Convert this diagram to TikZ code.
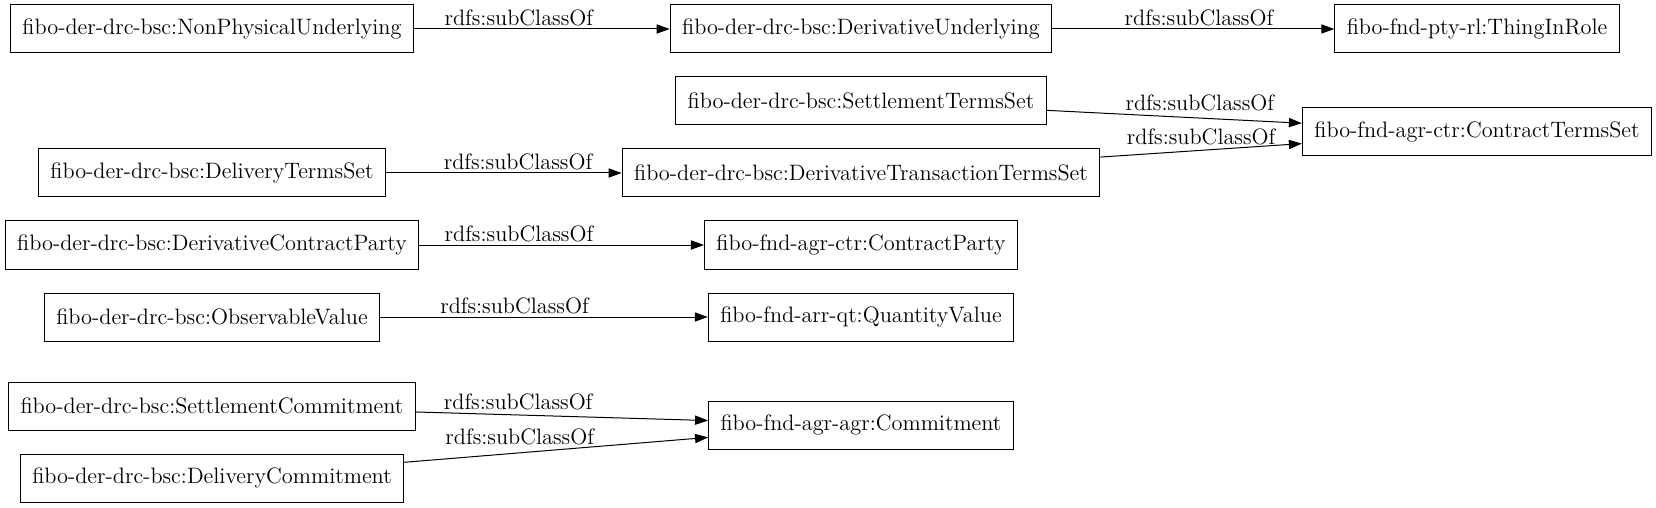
\documentclass[tikz,border=0pt]{standalone}
\usepackage{tikz}
\usetikzlibrary{arrows.meta}

\begin{document}
\begin{tikzpicture}[x=0.5pt,y=-0.5pt]
      \tikzstyle{cls} = [rectangle, draw, line width=0.5pt, inner xsep=6pt, minimum height=24pt, font=\fontsize{11.15}{13}\selectfont]
      \tikzstyle{sub} = [line width=0.5pt, -{Triangle[length=6.5pt,width=4.6pt]}]
      \tikzstyle{lbl} = [above, inner sep=1.5pt, font=\fontsize{11.15}{13}\selectfont]
      \useasboundingbox (0,0) rectangle (1656,508);
      % left column
      \node (npu) [cls] at (212,29) {fibo-der-drc-bsc:NonPhysicalUnderlying};
      \node (dts) [cls] at (212,173) {fibo-der-drc-bsc:DeliveryTermsSet};
      \node (dcp) [cls] at (212,245) {fibo-der-drc-bsc:DerivativeContractParty};
      \node (obv) [cls] at (212,317) {fibo-der-drc-bsc:ObservableValue};
      \node (stc) [cls] at (212,406) {fibo-der-drc-bsc:SettlementCommitment};
      \node (dlc) [cls] at (212,478) {fibo-der-drc-bsc:DeliveryCommitment};
      % middle column
      \node (du)  [cls] at (861,29) {fibo-der-drc-bsc:DerivativeUnderlying};
      \node (sts) [cls] at (861,101) {fibo-der-drc-bsc:SettlementTermsSet};
      \node (dtt) [cls] at (861,173) {fibo-der-drc-bsc:DerivativeTransactionTermsSet};
      \node (cp)  [cls] at (861,245) {fibo-fnd-agr-ctr:ContractParty};
      \node (qv)  [cls] at (861,317) {fibo-fnd-arr-qt:QuantityValue};
      \node (cmt) [cls] at (861,425) {fibo-fnd-agr-agr:Commitment};
      % right column
      \node (tir) [cls] at (1477,29) {fibo-fnd-pty-rl:ThingInRole};
      \node (cts) [cls] at (1477,132) {fibo-fnd-agr-ctr:ContractTermsSet};
      \draw [sub] (npu) -- node[lbl, pos=0.41]{rdfs:subClassOf} (du);
      \draw [sub] (du) -- node[lbl, pos=0.52]{rdfs:subClassOf} (tir);
      \draw [sub] (sts) -- node[lbl, pos=0.6, yshift=2pt]{rdfs:subClassOf} (cts);
      \draw [sub] (dtt) -- node[lbl, pos=0.5, yshift=1pt]{rdfs:subClassOf} (cts);
      \draw [sub] (dts) -- node[lbl, pos=0.56]{rdfs:subClassOf} (dtt);
      \draw [sub] (dcp) -- node[lbl, pos=0.35]{rdfs:subClassOf} (cp);
      \draw [sub] (obv) -- node[lbl, pos=0.41]{rdfs:subClassOf} (qv);
      \draw [sub] (stc) -- node[lbl, pos=0.35, yshift=1pt]{rdfs:subClassOf} (cmt);
      \draw [sub] (dlc) -- node[lbl, pos=0.38, yshift=2pt]{rdfs:subClassOf} (cmt);
\end{tikzpicture}
\end{document}
